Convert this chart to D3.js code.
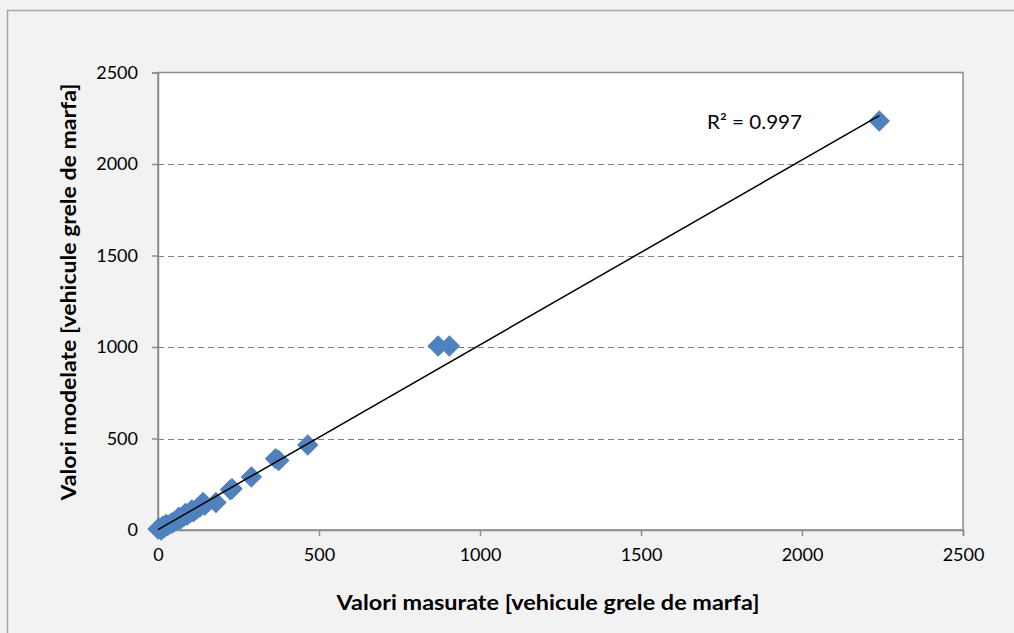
<!DOCTYPE html>
<html><head><meta charset="utf-8">
<script src="https://cdn.jsdelivr.net/npm/d3@7"></script>
<style>body{margin:0;background:#f2f2f2;} svg{display:block;}</style>
</head><body>
<svg id="c" width="1014" height="633"></svg>
<script>
const measured = [0,5,10,15,20,25,30,40,45,50,60,65,70,80,85,90,100,105,110,120,130,140,145,180,225,230,290,365,375,465,870,905,2240];
const modeled  = [5,10,0,20,15,30,25,35,40,45,55,70,60,75,90,80,95,110,100,115,125,150,135,150,220,225,290,390,380,465,1005,1005,2235];
const xTicks = [0,500,1000,1500,2000,2500];
const yTicks = [0,500,1000,1500,2000,2500];
const trendSlope = 1.01, trendIntercept = 2;
const r2Label = "R² = 0.997";
const xTitle = "Valori masurate [vehicule grele de marfa]";
const yTitle = "Valori modelate [vehicule grele de marfa]";

const svg = d3.select("#c");
const L=158, R=963, T=72.5, B=530;
const x = d3.scaleLinear().domain([0,2500]).range([L,R]);
const y = d3.scaleLinear().domain([0,2500]).range([B,T]);
const font = "Lato, 'Open Sans', sans-serif";

svg.append("rect").attr("x",0).attr("y",0).attr("width",1014).attr("height",633).attr("fill","#f2f2f2");
svg.append("rect").attr("x",7.5).attr("y",10.5).attr("width",1020).attr("height",640).attr("fill","none").attr("stroke","#a6a6a6").attr("stroke-width",1.5);
svg.append("rect").attr("x",L).attr("y",T).attr("width",R-L).attr("height",B-T).attr("fill","#ffffff").attr("stroke","#8c8c8c").attr("stroke-width",1.5);

// gridlines
svg.append("g").selectAll("line").data(yTicks.filter(d=>d>0&&d<2500)).join("line")
  .attr("x1",L).attr("x2",R).attr("y1",d=>Math.round(y(d))+0.5).attr("y2",d=>Math.round(y(d))+0.5)
  .attr("stroke","#808080").attr("stroke-dasharray","6,4").attr("stroke-width",1.2);

// axes
const xa = svg.append("g").attr("transform",`translate(0,${B})`)
  .call(d3.axisBottom(x).tickValues(xTicks).tickSize(6).tickPadding(12).tickFormat(d3.format("d")));
const ya = svg.append("g").attr("transform",`translate(${L},0)`)
  .call(d3.axisLeft(y).tickValues(yTicks).tickSize(6).tickPadding(14).tickFormat(d3.format("d")));
[xa,ya].forEach(a=>{
  a.select(".domain").attr("stroke","#8c8c8c").attr("stroke-width",1.5);
  a.selectAll(".tick line").attr("stroke","#8c8c8c").attr("stroke-width",1.5);
  a.selectAll("text").attr("font-family",font).attr("font-size",18).attr("fill","#000");
});

// points
const pts = measured.map((m,i)=>({m, v: modeled[i]}));
svg.append("g").selectAll("path").data(pts).join("path")
  .attr("d", d3.symbol().type(d3.symbolSquare).size(230))
  .attr("transform", d=>`translate(${x(d.m)},${y(d.v)}) rotate(45)`)
  .attr("fill","#4f81bd");

// trend line
const xmax = d3.max(measured);
svg.append("line")
  .attr("x1",x(0)).attr("y1",y(trendIntercept))
  .attr("x2",x(xmax)).attr("y2",y(trendIntercept+trendSlope*xmax))
  .attr("stroke","#000").attr("stroke-width",1.5);

svg.append("text").attr("x",707).attr("y",129).attr("font-family",font).attr("font-size",19)
  .attr("textLength",95).attr("lengthAdjust","spacingAndGlyphs").text(r2Label);

svg.append("text").attr("x",548).attr("y",610).attr("text-anchor","middle")
  .attr("font-family",font).attr("font-weight","bold").attr("font-size",21)
  .attr("textLength",423).attr("lengthAdjust","spacingAndGlyphs").text(xTitle);
svg.append("text").attr("transform","translate(76,292) rotate(-90)").attr("text-anchor","middle")
  .attr("font-family",font).attr("font-weight","bold").attr("font-size",21)
  .attr("textLength",417).attr("lengthAdjust","spacingAndGlyphs").text(yTitle);
</script>
</body></html>
